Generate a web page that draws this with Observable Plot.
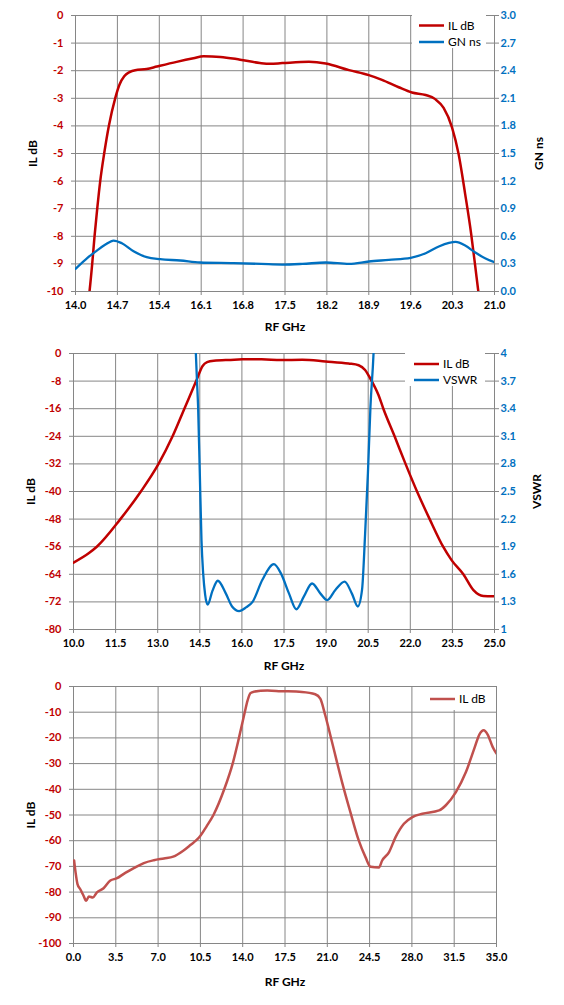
<!DOCTYPE html>
<html><head><meta charset="utf-8">
<script src="https://cdn.jsdelivr.net/npm/d3@7"></script>
<script src="https://cdn.jsdelivr.net/npm/@observablehq/plot@0.6"></script>
<style>
body{margin:0;background:#fff;}
#wrap{width:564px;}
#wrap svg{display:block;}
</style></head><body><div id="wrap"></div>
<script>
// ---------- Chart 1: IL dB and GN ns, 14–21 GHz ----------
const c1IlFreq = [14.20,14.234,14.279,14.318,14.363,14.413,14.479,14.557,14.663,14.736,14.814,14.903,14.997,15.19,15.36,15.69,15.97,16.14,16.42,16.75,17.08,17.25,17.455,17.90,18.18,18.57,18.90,19.12,19.40,19.62,19.85,20.01,20.15,20.29,20.40,20.51,20.61,20.68,20.73,20.76];
const c1IL = [-10.6,-10,-9,-8,-7,-6,-5,-4,-3,-2.5,-2.2,-2.05,-1.98,-1.94,-1.85,-1.68,-1.55,-1.48,-1.5,-1.6,-1.72,-1.75,-1.725,-1.68,-1.74,-1.98,-2.16,-2.33,-2.6,-2.79,-2.88,-3.03,-3.35,-4.05,-5.02,-6.47,-7.91,-9.12,-10,-10.5];
const c1GnFreq = [14.0,14.2,14.357,14.5,14.635,14.775,14.97,15.19,15.415,15.75,16.08,16.64,17.1,17.455,17.79,18.18,18.57,18.90,19.235,19.6,19.85,20.07,20.24,20.35,20.51,20.68,20.85,21.0];
const c1GN = [0.246,0.366,0.445,0.51,0.554,0.525,0.438,0.373,0.351,0.337,0.315,0.308,0.30,0.293,0.30,0.315,0.30,0.326,0.344,0.366,0.416,0.489,0.528,0.539,0.5,0.423,0.358,0.318];
const c1XTicks = [14.0,14.7,15.4,16.1,16.8,17.5,18.2,18.9,19.6,20.3,21.0];
const c1YTicks = [0,-1,-2,-3,-4,-5,-6,-7,-8,-9,-10];
const c1Y2Ticks = [0,0.3,0.6,0.9,1.2,1.5,1.8,2.1,2.4,2.7,3.0];

// ---------- Chart 2: IL dB and VSWR, 10–25 GHz ----------
const c2IlFreq = [10.0,10.54,10.83,11.67,12.40,13.03,13.53,13.95,14.37,14.60,14.76,15.0,15.6,16.02,16.7,17.39,18.15,18.98,19.80,20.16,20.39,20.57,20.87,21.04,21.44,21.83,22.24,22.69,23.17,23.47,23.89,24.25,24.6,25.0];
const c2IL = [-60.6,-57.9,-56,-48,-40,-32,-24,-16,-8,-3.6,-2.5,-2.1,-1.85,-1.7,-1.7,-1.9,-1.8,-2.3,-2.9,-3.4,-4.8,-7.2,-12.1,-16,-24,-32,-40,-48,-56,-59.9,-64,-68.6,-70.3,-70.4];
const c2VFreq = [14.30,14.36,14.40,14.44,14.50,14.56,14.62,14.69,14.78,14.95,15.14,15.43,15.65,15.90,16.15,16.38,16.73,17.14,17.39,17.68,17.94,18.21,18.50,18.80,19.04,19.33,19.66,19.92,20.13,20.28,20.39,20.49,20.58,20.69,20.74];
const c2VSWR = [4.6,4.0,3.7,3.42,2.70,1.97,1.61,1.38,1.27,1.42,1.53,1.39,1.25,1.20,1.24,1.30,1.54,1.71,1.61,1.39,1.22,1.36,1.50,1.39,1.32,1.43,1.52,1.39,1.25,1.43,2.04,2.70,3.42,4.0,4.4];
const c2XTicks = [10.0,11.5,13.0,14.5,16.0,17.5,19.0,20.5,22.0,23.5,25.0];
const c2YTicks = [0,-8,-16,-24,-32,-40,-48,-56,-64,-72,-80];
const c2Y2Ticks = [1,1.3,1.6,1.9,2.2,2.5,2.8,3.1,3.4,3.7,4];

// ---------- Chart 3: IL dB, 0–35 GHz ----------
const c3Freq = [0.05,0.17,0.33,0.55,0.83,1.05,1.27,1.6,1.94,2.49,3.05,3.6,4.16,4.99,5.82,6.65,7.48,8.25,9.08,9.7,10.19,10.5,11.0,11.58,12.47,13.17,13.69,14.17,14.40,14.64,14.92,16.03,17.14,18.9,20.0,20.42,20.83,21.39,22.22,22.91,23.6,24.16,24.57,25.27,25.54,26.1,26.65,27.34,28.04,28.87,30.25,30.81,31.64,32.47,33.16,33.58,33.94,34.27,34.68,35.0];
const c3IL = [-67.7,-72.3,-76.9,-78.8,-81.4,-83.4,-81.7,-82.1,-80.1,-78.5,-75.5,-74.6,-72.9,-70.7,-68.7,-67.6,-66.9,-66.2,-63.9,-61.6,-59.7,-58.1,-54.5,-50,-40,-30,-20,-10,-5.5,-2.6,-2.0,-1.6,-1.8,-2.1,-3.0,-4.7,-11.2,-21.6,-37.2,-48.9,-59.9,-66.4,-70.1,-70.4,-67.7,-64.5,-58.6,-53.4,-50.8,-49.5,-48.2,-46.2,-41.1,-33.3,-24.2,-18.7,-17.0,-18.7,-23.5,-26.1];
const c3XTicks = [0.0,3.5,7.0,10.5,14.0,17.5,21.0,24.5,28.0,31.5,35.0];
const c3YTicks = [0,-10,-20,-30,-40,-50,-60,-70,-80,-90,-100];

const RED = "#C00000", BLUE = "#0070C0", GRID = "#868686", RED3 = "#C0504D";
const FONT = "Lato, 'Open Sans', sans-serif";
const f1 = d3.format(".1f");
const zip = (xs, ys) => xs.map((x, i) => ({x, y: ys[i]}));

function baseMarks(o) {
  return [
    Plot.gridX(o.xTicks, {stroke: GRID, strokeOpacity: 1, strokeWidth: 1}),
    Plot.gridY(o.yTicks, {stroke: GRID, strokeOpacity: 1, strokeWidth: 1}),
    Plot.axisX(o.xTicks, {tickFormat: f1, tickSize: 4, tickPadding: 6, stroke: GRID, fill: "#000", label: null}),
    Plot.axisY(o.yTicks, {anchor: "left", tickFormat: d => String(d), tickSize: 4, tickPadding: 8, stroke: GRID, fill: o.leftColor, label: null}),
    Plot.text([o.xTitle], {frameAnchor: "bottom", dy: o.xTitleDy, text: d => d, fontSize: 12, fontWeight: "bold", fill: "#000", lineAnchor: "middle"}),
    Plot.text([o.yTitle], {frameAnchor: "left", dx: -42, rotate: -90, textAnchor: "middle", text: d => d, fontSize: 12, fontWeight: "bold", fill: "#000", lineAnchor: "middle"})
  ];
}

function legend(svg, box, items) {
  const g = d3.select(svg).append("g");
  g.append("rect").attr("x", box.x).attr("y", box.y).attr("width", box.w).attr("height", box.h).attr("fill", "#fff");
  items.forEach((it, i) => {
    const y = box.y0 + i * box.step;
    g.append("line").attr("x1", box.lx).attr("x2", box.lx + 25).attr("y1", y).attr("y2", y)
      .attr("stroke", it.color).attr("stroke-width", 2.5);
    g.append("text").attr("x", box.lx + 29).attr("y", y).attr("dy", "0.35em")
      .attr("text-anchor", "start")
      .attr("font-family", FONT).attr("font-size", 12).attr("font-weight", "normal").attr("fill", "#000").text(it.label);
  });
}

const wrap = document.getElementById("wrap");
const style = {fontFamily: FONT, fontSize: "11px", fontWeight: "bold", background: "#fff"};

// Chart 1
{
  const toP = g => -10 + g * 10 / 3, fromP = p => (p + 10) * 3 / 10;
  const svg = Plot.plot({
    width: 564, height: 335, marginTop: 15, marginBottom: 44, marginLeft: 75, marginRight: 70,
    style,
    x: {domain: [14, 21]}, y: {domain: [-10, 0]},
    marks: [
      ...baseMarks({xTicks: c1XTicks, yTicks: c1YTicks, leftColor: RED, xTitle: "RF GHz", xTitleDy: 36, yTitle: "IL dB"}),
      Plot.axisY(c1Y2Ticks.map(toP), {anchor: "right", tickFormat: d => f1(fromP(d)), tickSize: 4, tickPadding: 2, stroke: GRID, fill: BLUE, label: null}),
      Plot.text(["GN ns"], {frameAnchor: "right", dx: 45, rotate: -90, textAnchor: "middle", text: d => d, fontSize: 12, fontWeight: "bold", fill: "#000", lineAnchor: "middle"}),
      Plot.line(zip(c1IlFreq, c1IL), {x: "x", y: "y", stroke: RED, strokeWidth: 2.5, curve: "monotone-x", clip: true}),
      Plot.line(zip(c1GnFreq, c1GN), {x: "x", y: d => toP(d.y), stroke: BLUE, strokeWidth: 2.3, curve: "monotone-x", clip: true})
    ]
  });
  legend(svg, {x: 412, y: 15, w: 74, h: 33, lx: 419, y0: 25.5, step: 16.5}, [{label: "IL dB", color: RED}, {label: "GN ns", color: BLUE}]);
  wrap.appendChild(svg);
}

// Chart 2
{
  const toP = v => -80 + (v - 1) * 80 / 3, fromP = p => 1 + (p + 80) * 3 / 80;
  const svg = Plot.plot({
    width: 564, height: 337, marginTop: 18, marginBottom: 43, marginLeft: 73, marginRight: 70,
    style,
    x: {domain: [10, 25]}, y: {domain: [-80, 0]},
    marks: [
      ...baseMarks({xTicks: c2XTicks, yTicks: c2YTicks, leftColor: RED, xTitle: "RF GHz", xTitleDy: 37, yTitle: "IL dB"}),
      Plot.axisY(c2Y2Ticks.map(toP), {anchor: "right", tickFormat: d => String(Math.round(fromP(d) * 10) / 10), tickSize: 4, tickPadding: 2, stroke: GRID, fill: BLUE, label: null}),
      Plot.text(["VSWR"], {frameAnchor: "right", dx: 43, rotate: -90, textAnchor: "middle", text: d => d, fontSize: 12, fontWeight: "bold", fill: "#000", lineAnchor: "middle"}),
      Plot.line(zip(c2IlFreq, c2IL), {x: "x", y: "y", stroke: RED, strokeWidth: 2.5, curve: "monotone-x", clip: true}),
      Plot.line(zip(c2VFreq, c2VSWR), {x: "x", y: d => toP(d.y), stroke: BLUE, strokeWidth: 2.3, curve: "monotone-x", clip: true})
    ]
  });
  legend(svg, {x: 405, y: 18, w: 80, h: 33, lx: 414, y0: 29, step: 16}, [{label: "IL dB", color: RED}, {label: "VSWR", color: BLUE}]);
  wrap.appendChild(svg);
}

// Chart 3
{
  const svg = Plot.plot({
    width: 564, height: 333, marginTop: 14, marginBottom: 62, marginLeft: 73, marginRight: 68,
    style,
    x: {domain: [0, 35]}, y: {domain: [-100, 0]},
    marks: [
      ...baseMarks({xTicks: c3XTicks, yTicks: c3YTicks, leftColor: RED, xTitle: "RF GHz", xTitleDy: 39, yTitle: "IL dB"}),
      Plot.line(zip(c3Freq, c3IL), {x: "x", y: "y", stroke: RED3, strokeWidth: 2.5, curve: "monotone-x", clip: true})
    ]
  });
  legend(svg, {x: 426, y: 15, w: 66, h: 23, lx: 430, y0: 27, step: 16}, [{label: "IL dB", color: RED3}]);
  wrap.appendChild(svg);
}
</script></body></html>
